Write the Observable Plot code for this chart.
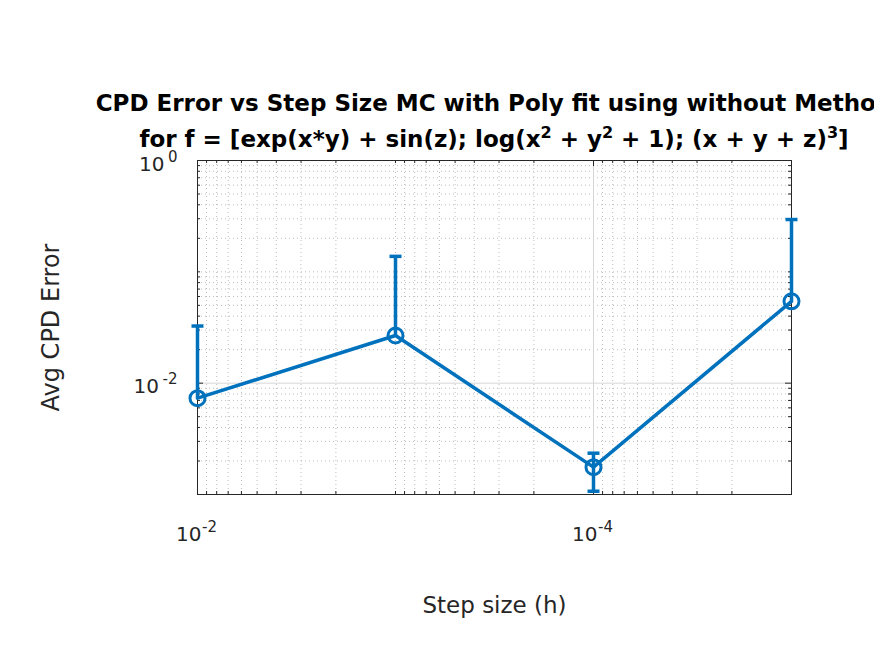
<!DOCTYPE html>
<html><head><meta charset="utf-8">
<script src="https://cdn.jsdelivr.net/npm/d3@7"></script>
<script src="https://cdn.jsdelivr.net/npm/@observablehq/plot@0.6"></script>
<style>
html,body{margin:0;padding:0;background:#fff;overflow:hidden;}
#chart{width:874px;height:655px;overflow:hidden;}
</style></head><body><div id="chart"></div>
<script>
// ---- data ----
const stepSizes  = [1e-2, 1e-3, 1e-4, 1e-5];
const avgError   = [0.00733, 0.0268, 0.00176, 0.0543];
const errorUpper = [0.0326, 0.1377, 0.00235, 0.295];
const errorLower = [null, null, 0.00107, null];

const xMajorTicks = [1e-2, 1e-4];
const xTickExponents = ["-2", "-4"];
const yMajorTicks = [1, 1e-2];
const yTickExponents = ["0", "-2"];
const xMinorTicks = [9e-3, 8e-3, 7e-3, 6e-3, 5e-3, 4e-3, 3e-3, 2e-3, 1e-3,
                     9e-4, 8e-4, 7e-4, 6e-4, 5e-4, 4e-4, 3e-4, 2e-4,
                     9e-5, 8e-5, 7e-5, 6e-5, 5e-5, 4e-5, 3e-5, 2e-5];
const yMinorTicks = [0.9, 0.8, 0.7, 0.6, 0.5, 0.4, 0.3, 0.2, 0.1,
                     0.09, 0.08, 0.07, 0.06, 0.05, 0.04, 0.03, 0.02,
                     0.009, 0.008, 0.007, 0.006, 0.005, 0.004, 0.003, 0.002];

const titleLine1 = "CPD Error vs Step Size MC with Poly fit using without Method";
const xLabel = "Step size (h)";
const yLabel = "Avg CPD Error";

const data = stepSizes.map((h, i) => ({h, err: avgError[i], hi: errorUpper[i], lo: errorLower[i]}));

const W = 874, H = 655, mt = 160, mb = 161, ml = 197, mr = 83;
const plotW = W - ml - mr, plotH = H - mt - mb;
const blue = "#0072BD", ink = "#262626";
const cap = {draw(ctx, size) { const w = Math.sqrt(size / Math.PI); ctx.moveTo(-w, 0); ctx.lineTo(w, 0); }};
const expWidth = s => [...s].reduce((a, c) => a + (c === "-" ? 0.36 : 0.64), 0) * 15;

const marks = [
  Plot.ruleX(xMinorTicks, {stroke: "#bdbdbd", strokeDasharray: "1,3"}),
  Plot.ruleY(yMinorTicks, {stroke: "#bdbdbd", strokeDasharray: "1,3"}),
  Plot.ruleX(xMajorTicks, {stroke: "#d6d6d6"}),
  Plot.ruleY(yMajorTicks, {stroke: "#d6d6d6"}),
  // tick marks (inside, all four sides)
  Plot.ruleX(xMinorTicks, {stroke: ink, insetTop: plotH - 3}),
  Plot.ruleX(xMinorTicks, {stroke: ink, insetBottom: plotH - 3}),
  Plot.ruleX(xMajorTicks, {stroke: ink, insetTop: plotH - 6}),
  Plot.ruleX(xMajorTicks, {stroke: ink, insetBottom: plotH - 6}),
  Plot.ruleY(yMinorTicks, {stroke: ink, insetRight: plotW - 3}),
  Plot.ruleY(yMinorTicks, {stroke: ink, insetLeft: plotW - 3}),
  Plot.ruleY(yMajorTicks, {stroke: ink, insetRight: plotW - 6}),
  Plot.ruleY(yMajorTicks, {stroke: ink, insetLeft: plotW - 6}),
  Plot.frame({stroke: ink}),
  // data
  Plot.line(data, {x: "h", y: "err", stroke: blue, strokeWidth: 3.5}),
  Plot.ruleX(data, {x: "h", y1: d => d.lo ?? d.err, y2: "hi", stroke: blue, strokeWidth: 3.5}),
  Plot.dot(data, {x: "h", y: "hi", symbol: cap, r: 6, stroke: blue, strokeWidth: 3.5, fill: "none"}),
  Plot.dot(data.filter(d => d.lo != null), {x: "h", y: "lo", symbol: cap, r: 6, stroke: blue, strokeWidth: 3.5, fill: "none"}),
  Plot.dot(data, {x: "h", y: "err", r: 7.5, stroke: blue, strokeWidth: 3, fill: "none"}),
  // axis labels
  Plot.text([xLabel], {frameAnchor: "bottom", text: d => d, textAnchor: "middle", lineAnchor: "bottom", dy: 118, fontSize: 23, fill: ink}),
  Plot.text([yLabel], {frameAnchor: "left", text: d => d, rotate: -90, textAnchor: "middle", lineAnchor: "bottom", dx: -139, dy: 0, fontSize: 24, fill: ink})
];
xMajorTicks.forEach((t, i) => {
  marks.push(Plot.text([t], {x: d => d, frameAnchor: "bottom", text: () => "10", textAnchor: "end", lineAnchor: "bottom", dx: 4, dy: 46, fontSize: 20, fill: ink}));
  marks.push(Plot.text([t], {x: d => d, frameAnchor: "bottom", text: () => xTickExponents[i], textAnchor: "start", lineAnchor: "bottom", dx: 4.5, dy: 37, fontSize: 15, fill: ink}));
});
yMajorTicks.forEach((t, i) => {
  marks.push(Plot.text([t], {y: d => d, frameAnchor: "left", text: () => "10", textAnchor: "end", lineAnchor: "bottom", dx: -20 - expWidth(yTickExponents[i]) - 3.5, dy: 10, fontSize: 20, fill: ink}));
  marks.push(Plot.text([t], {y: d => d, frameAnchor: "left", text: () => yTickExponents[i], textAnchor: "end", lineAnchor: "bottom", dx: -20, dy: 1, fontSize: 15, fill: ink}));
});

const svg = Plot.plot({
  width: W, height: H, marginTop: mt, marginBottom: mb, marginLeft: ml, marginRight: mr,
  x: {type: "log", domain: [1e-2, 1e-5], axis: null},
  y: {type: "log", domain: [1e-3, 1], axis: null},
  style: {fontFamily: "DejaVu Sans", color: ink, background: "white"},
  marks
});

// Title with superscripts
const g = d3.select(svg).append("g").attr("font-family", "DejaVu Sans").attr("font-weight", "bold").attr("fill", "#000").attr("text-anchor", "middle");
g.append("text").attr("x", 494).attr("y", 111).attr("font-size", 23).text(titleLine1);
const t2 = g.append("text").attr("x", 494).attr("y", 147).attr("font-size", 23);
const parts = [["for f = [exp(x*y) + sin(z); log(x", false], ["2", true], [" + y", false], ["2", true], [" + 1); (x + y + z)", false], ["3", true], ["]", false]];
let raised = false;
parts.forEach(([s, sup]) => {
  const sp = t2.append("tspan").text(s);
  if (sup && !raised) { sp.attr("dy", -9).attr("font-size", 16); raised = true; }
  else if (!sup && raised) { sp.attr("dy", 9); raised = false; }
});
document.getElementById("chart").appendChild(svg);
</script></body></html>
